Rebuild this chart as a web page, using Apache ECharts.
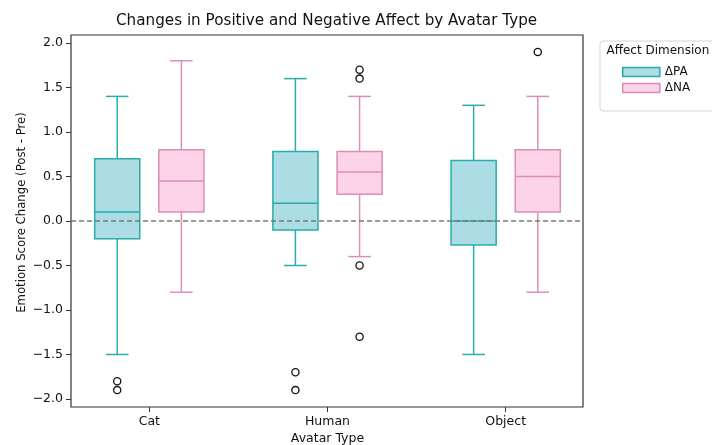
<!DOCTYPE html>
<html>
<head>
<meta charset="utf-8">
<script src="https://cdn.jsdelivr.net/npm/echarts@6/dist/echarts.min.js"></script>
<style>html,body{margin:0;padding:0;background:#fff;}#c{width:712px;height:445px;}</style>
</head>
<body>
<div id="c"></div>
<script>
const categories = ['Cat', 'Human', 'Object'];
// [min whisker, Q1, median, Q3, max whisker]
const paStats = [
  [-1.5, -0.2, 0.1, 0.7, 1.4],
  [-0.5, -0.1, 0.2, 0.78, 1.6],
  [-1.5, -0.27, 0.0, 0.68, 1.3]
];
const naStats = [
  [-0.8, 0.1, 0.45, 0.8, 1.8],
  [-0.4, 0.3, 0.55, 0.78, 1.4],
  [-0.8, 0.1, 0.5, 0.8, 1.4]
];
const paOutliers = [[0, -1.8], [0, -1.9], [1, -1.7], [1, -1.9]];
const naOutliers = [[1, 1.7], [1, 1.6], [1, -0.5], [1, -1.3], [2, 1.9]];
const yTicks = [-2.0, -1.5, -1.0, -0.5, 0.0, 0.5, 1.0, 1.5, 2.0];
const seriesNames = ['\u0394PA', '\u0394NA'];

const FONT = 'DejaVu Sans';
const PA = { fill: '#acdce4', edge: '#2aacac' };
const NA = { fill: '#fdd3e7', edge: '#d98fba' };
const OFFSET = 0.18;   // in band units
const BOXW = 0.253;    // in band units
const YMIN = -2.09, YMAX = 2.09;

function boxRender(sign, col) {
  return function (params, api) {
    const c = api.value(0);
    const vals = [api.value(1), api.value(2), api.value(3), api.value(4), api.value(5)];
    const band = api.size([1, 0])[0];
    const center = api.coord([c, 0])[0] + sign * OFFSET * band;
    const w = BOXW * band;
    const y = vals.map(v => api.coord([c, v])[1]);
    const x0 = center - w / 2, x1 = center + w / 2;
    const lw = 1.5;
    const ls = { stroke: col.edge, lineWidth: lw };
    return {
      type: 'group',
      children: [
        { type: 'line', shape: { x1: center, y1: y[3], x2: center, y2: y[4] }, style: ls },
        { type: 'line', shape: { x1: center, y1: y[1], x2: center, y2: y[0] }, style: ls },
        { type: 'line', shape: { x1: center - w / 4, y1: y[4], x2: center + w / 4, y2: y[4] }, style: ls },
        { type: 'line', shape: { x1: center - w / 4, y1: y[0], x2: center + w / 4, y2: y[0] }, style: ls },
        { type: 'rect', shape: { x: x0, y: y[3], width: w, height: y[1] - y[3] }, style: { fill: col.fill, stroke: col.edge, lineWidth: lw } },
        { type: 'line', shape: { x1: x0, y1: y[2], x2: x1, y2: y[2] }, style: ls }
      ]
    };
  };
}
function outlierRender(sign) {
  return function (params, api) {
    const c = api.value(0);
    const band = api.size([1, 0])[0];
    const p = api.coord([c, api.value(1)]);
    return {
      type: 'circle',
      shape: { cx: p[0] + sign * OFFSET * band, cy: p[1], r: 3.6 },
      style: { fill: 'none', stroke: '#111', lineWidth: 1.3 }
    };
  };
}

const chart = echarts.init(document.getElementById('c'), null, { renderer: 'canvas' });
chart.setOption({
  animation: false,
  backgroundColor: '#fff',
  textStyle: { fontFamily: FONT },
  title: [
    { text: 'Changes in Positive and Negative Affect by Avatar Type', left: 111, top: 9,
      textStyle: { fontFamily: FONT, fontSize: 15.2, fontWeight: 'normal', color: '#111' } },
    { text: 'Affect Dimension', left: 601.5, top: 39.5,
      textStyle: { fontFamily: FONT, fontSize: 12, fontWeight: 'normal', color: '#111' } }
  ],
  legend: {
    orient: 'vertical', left: 600, top: 41,
    padding: [24, 45, 16, 22],
    borderColor: '#d4d4d4', borderWidth: 1, borderRadius: 3, backgroundColor: '#fff',
    itemWidth: 37, itemHeight: 9, itemGap: 2,
    textStyle: { fontFamily: FONT, fontSize: 12, color: '#111', lineHeight: 14 },
    data: [
      { name: seriesNames[0], icon: 'rect', itemStyle: { color: PA.fill, borderColor: PA.edge, borderWidth: 1.5 } },
      { name: seriesNames[1], icon: 'rect', itemStyle: { color: NA.fill, borderColor: NA.edge, borderWidth: 1.5 } }
    ]
  },
  grid: [
    { left: 71, right: 129, top: 35, bottom: 38, show: true, borderColor: '#333', borderWidth: 1.2,
      backgroundColor: 'transparent', containLabel: false, outerBoundsMode: 'none' },
    { left: 60.2, width: 534.6, top: 35, bottom: 38, containLabel: false, outerBoundsMode: 'none' }
  ],
  xAxis: [
    { gridIndex: 0, type: 'value', min: 0, max: 1, show: false, axisLine: { onZero: false } },
    { gridIndex: 1, type: 'category', data: categories, boundaryGap: true,
      name: 'Avatar Type', nameLocation: 'middle', nameGap: 25, nameMoveOverlap: false,
      nameTextStyle: { fontFamily: FONT, fontSize: 12.5, color: '#111' },
      axisLine: { show: false, onZero: false },
      axisTick: { show: true, alignWithLabel: true, length: 5, lineStyle: { color: '#333', width: 1 } },
      axisLabel: { margin: 8, fontFamily: FONT, fontSize: 12.5, color: '#111' },
      splitLine: { show: false } }
  ],
  yAxis: [
    { gridIndex: 0, type: 'value', min: YMIN, max: YMAX,
      name: 'Emotion Score Change (Post - Pre)', nameLocation: 'middle', nameGap: 43, nameMoveOverlap: false,
      nameTextStyle: { fontFamily: FONT, fontSize: 11.7, color: '#111', padding: [0, 0, 0, 17] },
      axisLine: { show: false, onZero: false },
      axisTick: { show: true, length: 5, customValues: yTicks, lineStyle: { color: '#333', width: 1 } },
      axisLabel: { show: true, margin: 8, customValues: yTicks, fontFamily: FONT, fontSize: 12.5, color: '#111',
        formatter: v => Number(v).toFixed(1).replace('-', '\u2212') },
      splitLine: { show: false } },
    { gridIndex: 1, type: 'value', min: YMIN, max: YMAX, show: false, axisLine: { onZero: false }, splitLine: { show: false } }
  ],
  series: [
    { type: 'line', xAxisIndex: 0, yAxisIndex: 0, data: [[0, 0], [1, 0]], symbol: 'none', silent: true, z: 10,
      lineStyle: { color: '#7a7a7a', width: 1.3, type: [5, 3] } },
    { name: seriesNames[0], type: 'custom', xAxisIndex: 1, yAxisIndex: 1, z: 2,
      itemStyle: { color: PA.fill, borderColor: PA.edge },
      renderItem: boxRender(-1, PA),
      data: paStats.map((s, i) => [i].concat(s)) },
    { name: seriesNames[1], type: 'custom', xAxisIndex: 1, yAxisIndex: 1, z: 2,
      itemStyle: { color: NA.fill, borderColor: NA.edge },
      renderItem: boxRender(1, NA),
      data: naStats.map((s, i) => [i].concat(s)) },
    { name: seriesNames[0], type: 'custom', xAxisIndex: 1, yAxisIndex: 1, z: 3,
      renderItem: outlierRender(-1), data: paOutliers },
    { name: seriesNames[1], type: 'custom', xAxisIndex: 1, yAxisIndex: 1, z: 3,
      renderItem: outlierRender(1), data: naOutliers }
  ]
});
</script>
</body>
</html>
